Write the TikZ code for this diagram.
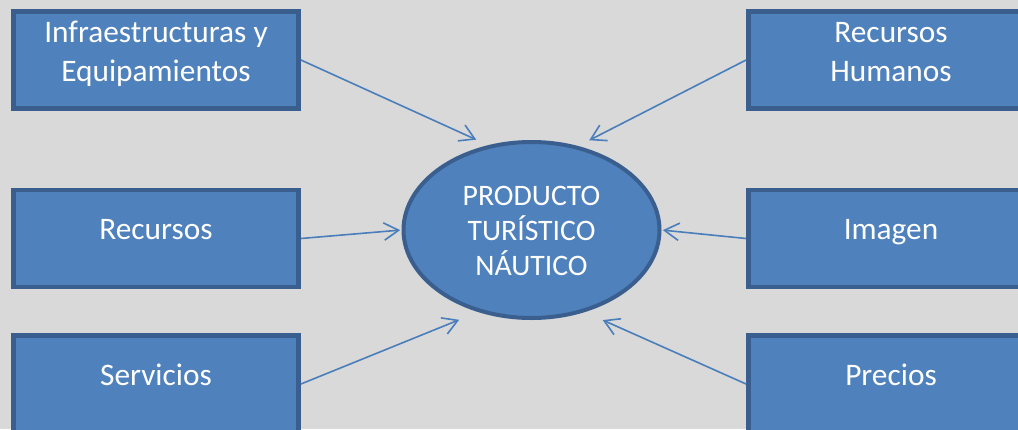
\documentclass[tikz,border=0pt]{standalone}
\usepackage{fontspec}
\setmainfont{Carlito}
\usetikzlibrary{arrows.meta,shapes.geometric}
\definecolor{boxfill}{HTML}{4F81BD}
\definecolor{boxline}{HTML}{3A5F8E}
\definecolor{arrowline}{HTML}{4A7EBB}
\definecolor{backgr}{HTML}{D9D9D9}

\begin{document}
\begin{tikzpicture}[x=0.75pt,y=-0.75pt,
	factor/.style={draw=boxline,fill=boxfill,line width=3.4pt,text=white,
		minimum width=214pt,minimum height=73pt,align=center,
		font=\fontsize{23.5}{29.25}\selectfont},
	oneline/.style={text height=10pt,text depth=7.8pt},
	twoline/.style={text height=36pt,text depth=4.5pt},
	core/.style={ellipse,draw=boxline,fill=boxfill,line width=3pt,text=white,
		minimum width=192pt,minimum height=132pt,align=center,
		font=\fontsize{22.3}{26.25}\selectfont,text height=72pt,text depth=4.5pt},
	feed/.style={draw=arrowline,line width=1.2pt,-{Straight Barb[length=11pt,width=13pt]}}]
	\useasboundingbox (0,0) rectangle (1018,429);
	\clip (0,0) rectangle (1018,429);
	\fill[backgr] (0,0) rectangle (1018,429);

	\node[core] (prod) at (531.5,230) {PRODUCTO\\TURÍSTICO\\NÁUTICO};

	\node[factor,twoline] (infra) at (156,60) {Infraestructuras y\\Equipamientos};
	\node[factor,oneline] (recur) at (156,238.5) {Recursos};
	\node[factor,oneline] (serv) at (156,384) {Servicios};
	\node[factor,twoline] (rrhh) at (891,60) {Recursos\\Humanos};
	\node[factor,oneline] (imagen) at (891,238.5) {Imagen};
	\node[factor,oneline] (precios) at (891,384) {Precios};

	\draw[feed,shorten >=9.9pt] (infra.east) -- (prod.117.8);
	\draw[feed,shorten >=9.4pt] (rrhh.west) -- (prod.61.7);
	\draw[feed,shorten >=1pt] (recur.east) -- (prod.west);
	\draw[feed,shorten >=1pt] (imagen.west) -- (prod.east);
	\draw[feed,shorten >=15.4pt] (serv.east) -- (prod.237.5);
	\draw[feed,shorten >=14.7pt] (precios.west) -- (prod.303.2);
\end{tikzpicture}
\end{document}
